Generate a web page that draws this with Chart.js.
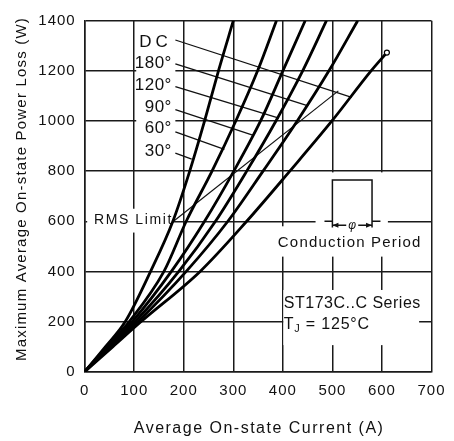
<!DOCTYPE html>
<html>
<head>
<meta charset="utf-8">
<script src="https://cdn.jsdelivr.net/npm/chart.js@4.4.0/dist/chart.umd.min.js"></script>
<style>
  html, body { margin: 0; padding: 0; background: #fff; }
</style>
</head>
<body>
<canvas id="myChart" width="454" height="441"></canvas>
<script>
// power levels (W) at which the current of each curve was read
const lossLevels = [0, 100, 200, 400, 600, 800, 1000, 1200, 1400];
// average current (A) of each conduction angle at those power levels
const amps30  = [0, 42, 82, 133, 178, 212, 242, 270, 300];
const amps60  = [0, 45, 90, 160, 205, 257, 305, 349, 387];
const amps90  = [0, 47, 96, 175, 242, 301, 355, 400, 445];
const amps120 = [0, 50, 102, 190, 264, 327, 386, 440, 488];
const amps180 = [0, 53, 108, 205, 289, 360, 429, 493, 551];
// DC stops short of the top
const ampsDC  = [0, 57, 114, 233, 327, 414, 499, 578, 610];
const wattsDC = [0, 100, 200, 400, 600, 800, 1000, 1200, 1273];

const curveNames = ["30°", "60°", "90°", "120°", "180°", "DC"];

// leader lines from the labels to the curves (top label first)
const leaderNames      = ["DC", "180°", "120°", "90°", "60°", "30°"];
const leaderStartAmps  = [183, 183, 183, 183, 183, 183];
const leaderStartWatts = [1323, 1228, 1137, 1045, 957, 872];
const leaderEndAmps    = [539, 451, 392, 339, 282, 216];
const leaderEndWatts   = [1094, 1060, 1011, 944, 887, 848];

// RMS limit line
const rmsAmps  = [178, 512];
const rmsWatts = [598, 1120];

const xTicks = [0, 100, 200, 300, 400, 500, 600, 700];
const yTicks = [0, 200, 400, 600, 800, 1000, 1200, 1400];

const FONT = "'Liberation Sans', Arial, sans-serif";
const INK = "#111";

function pairs(xs, ys) {
  return xs.map((v, i) => ({ x: v, y: ys[i] }));
}

const curveAmps = [amps30, amps60, amps90, amps120, amps180, ampsDC];
const datasets = curveAmps.map((arr, i) => {
  const ys = curveNames[i] === "DC" ? wattsDC : lossLevels;
  const last = arr.length - 1;
  return {
    label: curveNames[i],
    data: pairs(arr, ys),
    borderColor: "#000",
    borderWidth: 2.8,
    cubicInterpolationMode: "monotone",
    pointRadius: ctx => (curveNames[i] === "DC" && ctx.dataIndex === last) ? 2.5 : 0,
    pointBackgroundColor: "#fff",
    pointBorderColor: "#000",
    pointBorderWidth: 1.2
  };
});

leaderNames.forEach((n, i) => {
  datasets.push({
    label: "leader " + n,
    data: [{ x: leaderStartAmps[i], y: leaderStartWatts[i] }, { x: leaderEndAmps[i], y: leaderEndWatts[i] }],
    borderColor: INK,
    borderWidth: 1.3,
    pointRadius: 0
  });
});

datasets.push({
  label: "RMS Limit",
  data: pairs(rmsAmps, rmsWatts),
  borderColor: INK,
  borderWidth: 1.2,
  pointRadius: 0
});

function text(ctx, s, x, y, size, spacing, align) {
  ctx.font = size + "px " + FONT;
  ctx.letterSpacing = spacing + "px";
  ctx.textAlign = align;
  ctx.textBaseline = "middle";
  ctx.fillStyle = INK;
  ctx.fillText(s, x, y);
}

const notes = {
  id: "notes",
  beforeDraw(chart) {
    chart.ctx.letterSpacing = "1px";
  },
  beforeDatasetsDraw(chart) {
    const ctx = chart.ctx;
    const X = v => chart.scales.x.getPixelForValue(v);
    const Y = v => chart.scales.y.getPixelForValue(v);
    const mask = (a0, a1, w0, w1) => {
      ctx.fillStyle = "#fff";
      ctx.fillRect(X(a0), Y(w1), X(a1) - X(a0), Y(w0) - Y(w1));
    };
    ctx.save();

    // white patches behind the notes
    mask(104, 183, 835, 1350);
    mask(5, 177, 555, 650);
    mask(466, 612, 573, 795);
    mask(389, 690, 459, 580);
    mask(401, 675, 106, 326);

    // angle labels
    const labelW = [1312, 1230, 1144, 1055, 971, 878];
    leaderNames.forEach((n, i) => text(ctx, n, X(176), Y(labelW[i]), 17, n === "DC" ? 4 : 0.5, "right"));

    text(ctx, "RMS Limit", X(178), Y(605), 14, 1.6, "right");
    text(ctx, "Conduction Period", X(535), Y(513), 15, 1.2, "center");
    text(ctx, "ST173C..C Series", X(402), Y(273), 16, 0.5, "left");

    // T with subscript J
    let tx = X(402);
    const ty = Y(186);
    text(ctx, "T", tx, ty, 16, 0.5, "left");
    tx += ctx.measureText("T").width;
    text(ctx, "J", tx, ty + 4, 11, 0, "left");
    tx += ctx.measureText("J").width + 1;
    text(ctx, " = 125°C", tx, ty, 16, 0.8, "left");

    // conduction period waveform
    ctx.strokeStyle = INK;
    ctx.lineWidth = 1.5;
    const xl = X(500), xr = X(580), yb = Y(600), yt = Y(765), ylow = Y(575);
    ctx.beginPath();
    ctx.moveTo(X(484), yb); ctx.lineTo(xl, yb);
    ctx.moveTo(xl, ylow); ctx.lineTo(xl, yt); ctx.lineTo(xr, yt); ctx.lineTo(xr, ylow);
    ctx.moveTo(xr, yb); ctx.lineTo(X(597), yb);
    const ya = Y(584), xm = X(540);
    ctx.moveTo(xl, ya); ctx.lineTo(xm - 6, ya);
    ctx.moveTo(xm + 6, ya); ctx.lineTo(xr, ya);
    ctx.stroke();
    ctx.fillStyle = INK;
    ctx.beginPath();
    ctx.moveTo(xl, ya); ctx.lineTo(xl + 6, ya - 2.5); ctx.lineTo(xl + 6, ya + 2.5); ctx.closePath();
    ctx.moveTo(xr, ya); ctx.lineTo(xr - 6, ya - 2.5); ctx.lineTo(xr - 6, ya + 2.5); ctx.closePath();
    ctx.fill();
    ctx.font = "italic 12px " + FONT;
    ctx.letterSpacing = "0px";
    ctx.textAlign = "center";
    ctx.textBaseline = "middle";
    ctx.fillText("φ", xm, ya);

    ctx.restore();
  },
  afterDraw(chart) {
    const ctx = chart.ctx;
    const area = chart.chartArea;
    ctx.save();
    text(ctx, "Average On-state Current (A)", (area.left + area.right) / 2 + 1, 429, 16, 1.5, "center");
    ctx.translate(22, 189);
    ctx.rotate(-Math.PI / 2);
    text(ctx, "Maximum Average On-state Power Loss (W)", 0, 0, 15, 1.2, "center");
    ctx.restore();
  }
};

new Chart(document.getElementById("myChart").getContext("2d"), {
  type: "line",
  data: { datasets: datasets },
  plugins: [notes],
  options: {
    responsive: false,
    animation: false,
    devicePixelRatio: 1,
    layout: { padding: { top: 20.7, right: 17.3, left: 0, bottom: 0 } },
    plugins: { legend: { display: false }, tooltip: { enabled: false } },
    scales: {
      x: {
        type: "linear",
        min: 0,
        max: 700,
        afterFit: s => { s.height = 69.3; },
        afterBuildTicks: s => { s.ticks = xTicks.map(v => ({ value: v })); },
        grid: { color: "#1a1a1a", lineWidth: 1.5, drawTicks: false },
        border: { color: "#1a1a1a", width: 1.5 },
        ticks: { padding: 10, maxRotation: 0, autoSkip: false, color: INK, font: { family: FONT, size: 15 },
                 callback: v => String(v) }
      },
      y: {
        type: "linear",
        min: 0,
        max: 1400,
        afterFit: s => { s.width = 84.7; },
        afterBuildTicks: s => { s.ticks = yTicks.map(v => ({ value: v })); },
        grid: { color: "#1a1a1a", lineWidth: 1.5, drawTicks: false },
        border: { color: "#1a1a1a", width: 1.5 },
        ticks: { padding: 9, color: INK, font: { family: FONT, size: 15 },
                 callback: v => String(v) }
      }
    }
  }
});
</script>
</body>
</html>
